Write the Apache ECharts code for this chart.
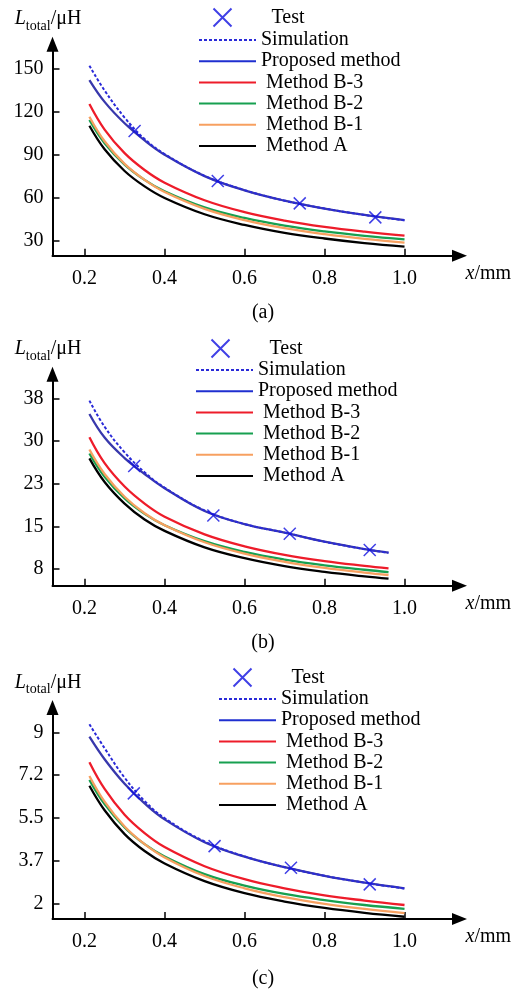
<!DOCTYPE html>
<html>
<head>
<meta charset="utf-8">
<script src="https://cdn.jsdelivr.net/npm/echarts@6/dist/echarts.min.js"></script>
<style>html,body{margin:0;padding:0;background:#fff;}#c{width:521px;height:994px;}</style>
</head>
<body>
<div id="c"></div>
<script>
// ---------- data ----------
const xTickValues = [0.2, 0.4, 0.6, 0.8, 1.0];
const xPts = [0.212, 0.25, 0.3, 0.35, 0.4, 0.5, 0.6, 0.7, 0.8, 0.9, 1.0];
const xPtsB = [0.212, 0.25, 0.3, 0.35, 0.4, 0.5, 0.6, 0.7, 0.8, 0.9, 0.96];
const seriesNames = ['Test', 'Simulation', 'Proposed method', 'Method B-3', 'Method B-2', 'Method B-1', 'Method A'];

// panel (a)
const yTicksA = [30, 60, 90, 120, 150];
const yLabelsA = ['30', '60', '90', '120', '150'];
const testXA = [0.325, 0.533, 0.738, 0.927];
const testYA = [106.6, 71.6, 55.9, 46.1];
const simA = [152.3, 135, 116, 101, 90.5, 75.2, 65.2, 57.8, 52.3, 47.8, 44];
const propA = [142.3, 127, 112, 100, 90, 75, 65, 57.8, 52.3, 47.8, 44.2];
const b3A = [125.5, 107.6, 91.1, 79.3, 70.4, 58.1, 49.8, 43.9, 39.5, 36.1, 33.3];
const b2A = [114.3, 98.0, 83.1, 72.4, 64.4, 53.1, 45.7, 40.3, 36.3, 33.2, 30.7];
const b1A = [116.6, 99.4, 83.6, 72.4, 63.9, 52.1, 44.2, 38.5, 34.3, 31.0, 28.4];
const mAA = [110.3, 93.8, 78.6, 67.8, 59.7, 48.3, 40.8, 35.3, 31.3, 28.1, 25.6];

// panel (b)
const yTicksB = [7.5, 15, 22.5, 30, 37.5];
const yLabelsB = ['8', '15', '23', '30', '38'];
const testXB = [0.324, 0.522, 0.713, 0.913];
const testYB = [25.6, 16.9, 13.7, 10.84];
const simB = [37.1, 32.5, 28.0, 24.5, 21.8, 17.8, 15.4, 13.9, 12.3, 11.0, 10.35];
const propB = [34.75, 30.6, 27.0, 24.2, 21.7, 17.7, 15.4, 13.9, 12.3, 11.0, 10.4];
const b3B = [30.65, 26.1, 22.0, 19.0, 16.7, 13.6, 11.5, 10.0, 8.9, 8.05, 7.6];
const b2B = [27.8, 23.7, 19.9, 17.2, 15.2, 12.4, 10.5, 9.15, 8.15, 7.37, 6.97];
const b1B = [28.5, 24.2, 20.2, 17.3, 15.2, 12.2, 10.2, 8.77, 7.7, 6.87, 6.45];
const mAB = [26.95, 22.8, 19.0, 16.2, 14.2, 11.3, 9.4, 8.0, 7.0, 6.2, 5.8];

// panel (c)
const yTicksC = [2, 3.75, 5.5, 7.25, 9];
const yLabelsC = ['2', '3.7', '5.5', '7.2', '9'];
const testXC = [0.323, 0.525, 0.716, 0.913];
const testYC = [6.51, 4.36, 3.48, 2.80];
const simC = [9.33, 8.35, 7.15, 6.2, 5.5, 4.55, 3.94, 3.5, 3.15, 2.87, 2.63];
const propC = [8.82, 7.9, 6.9, 6.1, 5.45, 4.52, 3.93, 3.5, 3.15, 2.87, 2.64];
const b3C = [7.78, 6.69, 5.64, 4.89, 4.32, 3.54, 3.01, 2.64, 2.35, 2.14, 1.96];
const b2C = [7.06, 6.07, 5.12, 4.44, 3.94, 3.22, 2.75, 2.41, 2.16, 1.96, 1.80];
const b1C = [7.22, 6.17, 5.16, 4.44, 3.90, 3.14, 2.64, 2.28, 2.01, 1.80, 1.63];
const mAC = [6.82, 5.82, 4.85, 4.16, 3.65, 2.93, 2.44, 2.10, 1.84, 1.64, 1.48];

const captions = ['(a)', '(b)', '(c)'];

// ---------- layout / style ----------
const FONT = '"Liberation Serif", "Times New Roman", serif';
const colors = {
  test: '#1010e0', sim: '#2a2ad8', prop: '#3838ac', propLegend: '#1f2fd0',
  b3: '#ee1c2a', b2: '#17a050', b1: '#f7a060', a: '#000000'
};
const panels = [
  { top: 44.2, yMin: 19.26, yMax: 167.4, ticks: yTicksA, labels: yLabelsA, xs: xPts,
    tx: testXA, ty: testYA, lines: [simA, propA, b3A, b2A, b1A, mAA],
    legTest: [220, 15], legLeft: 198, legTop: 30, cap: 313 },
  { top: 374.2, yMin: 4.57, yMax: 41.74, ticks: yTicksB, labels: yLabelsB, xs: xPtsB,
    tx: testXB, ty: testYB, lines: [simB, propB, b3B, b2B, b1B, mAB],
    legTest: [218, 346], legLeft: 195, legTop: 360, cap: 643 },
  { top: 707.5, yMin: 1.389, yMax: 10.01, ticks: yTicksC, labels: yLabelsC, xs: xPts,
    tx: testXC, ty: testYC, lines: [simC, propC, b3C, b2C, b1C, mAC],
    legTest: [240, 675], legLeft: 218, legTop: 689, cap: 979 }
];
const GRID_H = 211.5, GRID_LEFT = 52.5, GRID_W = 407;
const X_MIN = 0.1197, X_MAX = 1.1375;

const lineStyles = [
  { color: colors.sim, width: 2, type: [3, 2] },
  { color: colors.prop, width: 2.3 },
  { color: colors.b3, width: 2.3 },
  { color: colors.b2, width: 2.3 },
  { color: colors.b1, width: 2.3 },
  { color: colors.a, width: 2.3 }
];

const grid = [], xAxis = [], yAxis = [], series = [], legend = [], graphic = [];
const axisLineCommon = { show: true, onZero: false, lineStyle: { color: '#000', width: 2 },
  symbol: ['none', 'triangle'], symbolSize: [12, 15] };

panels.forEach((p, i) => {
  grid.push({ left: GRID_LEFT, top: p.top, width: GRID_W, height: GRID_H, containLabel: false });
  xAxis.push({
    type: 'value', gridIndex: i, min: X_MIN, max: X_MAX,
    axisLine: axisLineCommon,
    axisTick: { show: true, inside: true, length: 7, lineStyle: { color: '#000', width: 1.5 }, customValues: xTickValues },
    axisLabel: { customValues: xTickValues, formatter: v => v.toFixed(1), color: '#000', fontSize: 20, fontFamily: FONT, margin: 13 },
    splitLine: { show: false },
    name: '{i|x}/mm', nameLocation: 'end', nameGap: 6,
    nameTextStyle: { color: '#000', fontSize: 20, fontFamily: FONT, align: 'left', verticalAlign: 'top', padding: [8, 0, 0, 0],
      rich: { i: { fontStyle: 'italic', fontSize: 20, fontFamily: FONT, color: '#000' } } }
  });
  yAxis.push({
    type: 'value', gridIndex: i, min: p.yMin, max: p.yMax,
    axisLine: axisLineCommon,
    axisTick: { show: true, inside: true, length: 7, lineStyle: { color: '#000', width: 1.5 }, customValues: p.ticks },
    axisLabel: { customValues: p.ticks, formatter: v => p.labels[p.ticks.indexOf(v)] ?? String(v),
      color: '#000', fontSize: 20, fontFamily: FONT, margin: 9 },
    splitLine: { show: false },
    name: '{i|L}{s|total}{n|/μH}', nameLocation: 'end', nameGap: 14,
    nameTextStyle: { color: '#000', fontFamily: FONT, fontSize: 20, align: 'center', verticalAlign: 'bottom', padding: [0, 9, 0, 0],
      rich: {
        i: { fontStyle: 'italic', fontSize: 20, fontFamily: FONT, color: '#000', lineHeight: 22 },
        s: { fontSize: 14, fontFamily: FONT, color: '#000', verticalAlign: 'bottom', lineHeight: 14, padding: [0, 0, -3, 0] },
        n: { fontSize: 20, fontFamily: FONT, color: '#000', lineHeight: 22 }
      } }
  });
  // line series
  p.lines.forEach((arr, k) => {
    series.push({
      type: 'line', name: seriesNames[k + 1], xAxisIndex: i, yAxisIndex: i,
      data: p.xs.map((x, j) => [x, arr[j]]),
      smooth: 0.4, symbol: 'none', showSymbol: false,
      lineStyle: lineStyles[k], itemStyle: { color: lineStyles[k].color },
      z: k === 0 ? 4 : 3
    });
  });
  series.push({
    type: 'scatter', name: 'Test', xAxisIndex: i, yAxisIndex: i,
    data: p.tx.map((x, j) => [x, p.ty[j]]),
    symbol: 'path://M0,0L10,10M10,0L0,10', symbolSize: 12,
    itemStyle: { color: 'none', borderColor: colors.test, borderWidth: 1.5 }, z: 5
  });
  legend.push({
    left: p.legTest[0] - 9, top: p.legTest[1] - 9, padding: 0, itemWidth: 18, itemHeight: 18,
    data: ['Test'], selectedMode: false,
    formatter: n => '       ' + n,
    textStyle: { color: '#000', fontSize: 20, fontFamily: FONT }
  });
  legend.push({
    orient: 'vertical', left: p.legLeft, top: p.legTop, padding: 0, itemWidth: 57, itemHeight: 14, itemGap: 1.2,
    data: seriesNames.slice(1).map(n => n === 'Proposed method'
      ? { name: n, lineStyle: { color: colors.propLegend } } : { name: n }),
    selectedMode: false,
    itemStyle: { opacity: 0 },
    formatter: n => (n.indexOf('Method') === 0 ? ' ' + n : n),
    textStyle: { color: '#000', fontSize: 20, fontFamily: FONT }
  });
  graphic.push({ type: 'text', x: 263, y: p.cap,
    style: { text: captions[i], font: '20px ' + FONT, fill: '#000', align: 'center', verticalAlign: 'middle' } });
});

const chart = echarts.init(document.getElementById('c'), null, { renderer: 'canvas' });
chart.setOption({
  backgroundColor: '#fff', animation: false,
  grid, xAxis, yAxis, series, legend, graphic
});
</script>
</body>
</html>
